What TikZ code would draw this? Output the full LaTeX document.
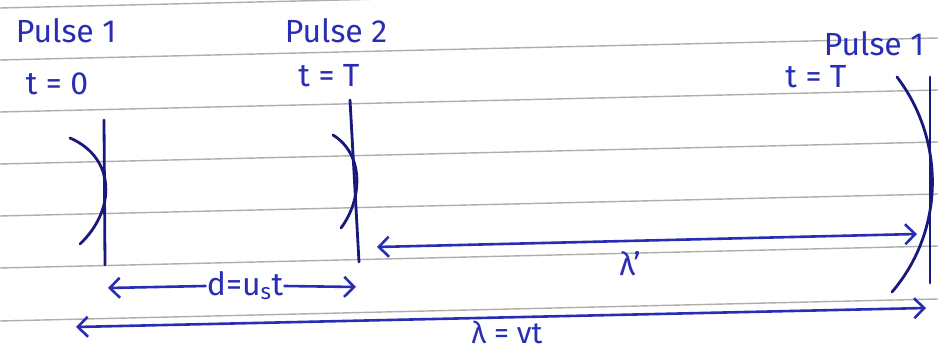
\documentclass[tikz,border=0pt]{standalone}
\usepackage{fontspec}
\setmainfont{Fira Sans}
\usetikzlibrary{arrows.meta}
\definecolor{pen}{RGB}{40,45,180}
\definecolor{ink}{RGB}{25,25,125}
\definecolor{rulec}{RGB}{175,175,170}
\begin{document}
\begin{tikzpicture}[x=1pt,y=-1pt,
  ruled/.style={rulec, line width=1.4pt},
  pulse/.style={ink, line width=2.8pt, line cap=round},
  dimline/.style={pen, line width=2.6pt, line cap=round},
  barb/.tip={Straight Barb[length=10pt,width=20pt,line width=2.6pt]},
  hand/.style={pen, font=\fontsize{32}{32}\selectfont, inner sep=1pt},
]
\fill[white] (0,0) rectangle (938,352);
\useasboundingbox (0,0) rectangle (938,352);
% ruled paper
\foreach \y in {8,60,112,164,216,268,321} \draw[ruled] (0,\y) -- (938,\y-22);
% labels
\node[hand] (pl1) at (66,31) {Pulse 1};
\node[hand] (t0) at (57,84) {t = 0};
\node[hand] (pl2) at (336,31) {Pulse 2};
\node[hand] (tT) at (329,76) {t = T};
\node[hand] (pl1b) at (874,44) {Pulse 1};
\node[hand] (tT2) at (816,77) {t = T};
% pulses
\draw[pulse] (104,120) -- (105,265);
\draw[pulse] (70,138) .. controls (116,158) and (116,210) .. (80,244);
\draw[pulse] (350,100) -- (359,262);
\draw[pulse] (333,135) .. controls (365,155) and (362,200) .. (341,228);
\draw[pulse] (930,77) -- (930,283);
\draw[pulse] (897,77) .. controls (945,140) and (945,230) .. (892,292);
% arrow end points
\coordinate (p2b) at (377,247);
\coordinate (p1T) at (917,234);
\coordinate (dL) at (108,288);
\coordinate (dR) at (356,287);
\coordinate (aL) at (76,327);
\coordinate (aR) at (926,308);
% lambda prime
\draw[dimline, barb-barb] (p2b) -- (p1T);
\node[hand] (lp) at (630,264) {λ'};
% d = u_s t
\node[hand] (dlab) at (245,286) {d=u\textsubscript{s}t};
\draw[dimline, -barb] (dlab.west) -- (dL);
\draw[dimline, -barb] (dlab.east) -- (dR);
% lambda = vt
\draw[dimline, barb-barb] (aL) -- (aR);
\node[hand, font=\fontsize{30}{30}\selectfont] (lv) at (507,332) {λ = vt};
\end{tikzpicture}
\end{document}
